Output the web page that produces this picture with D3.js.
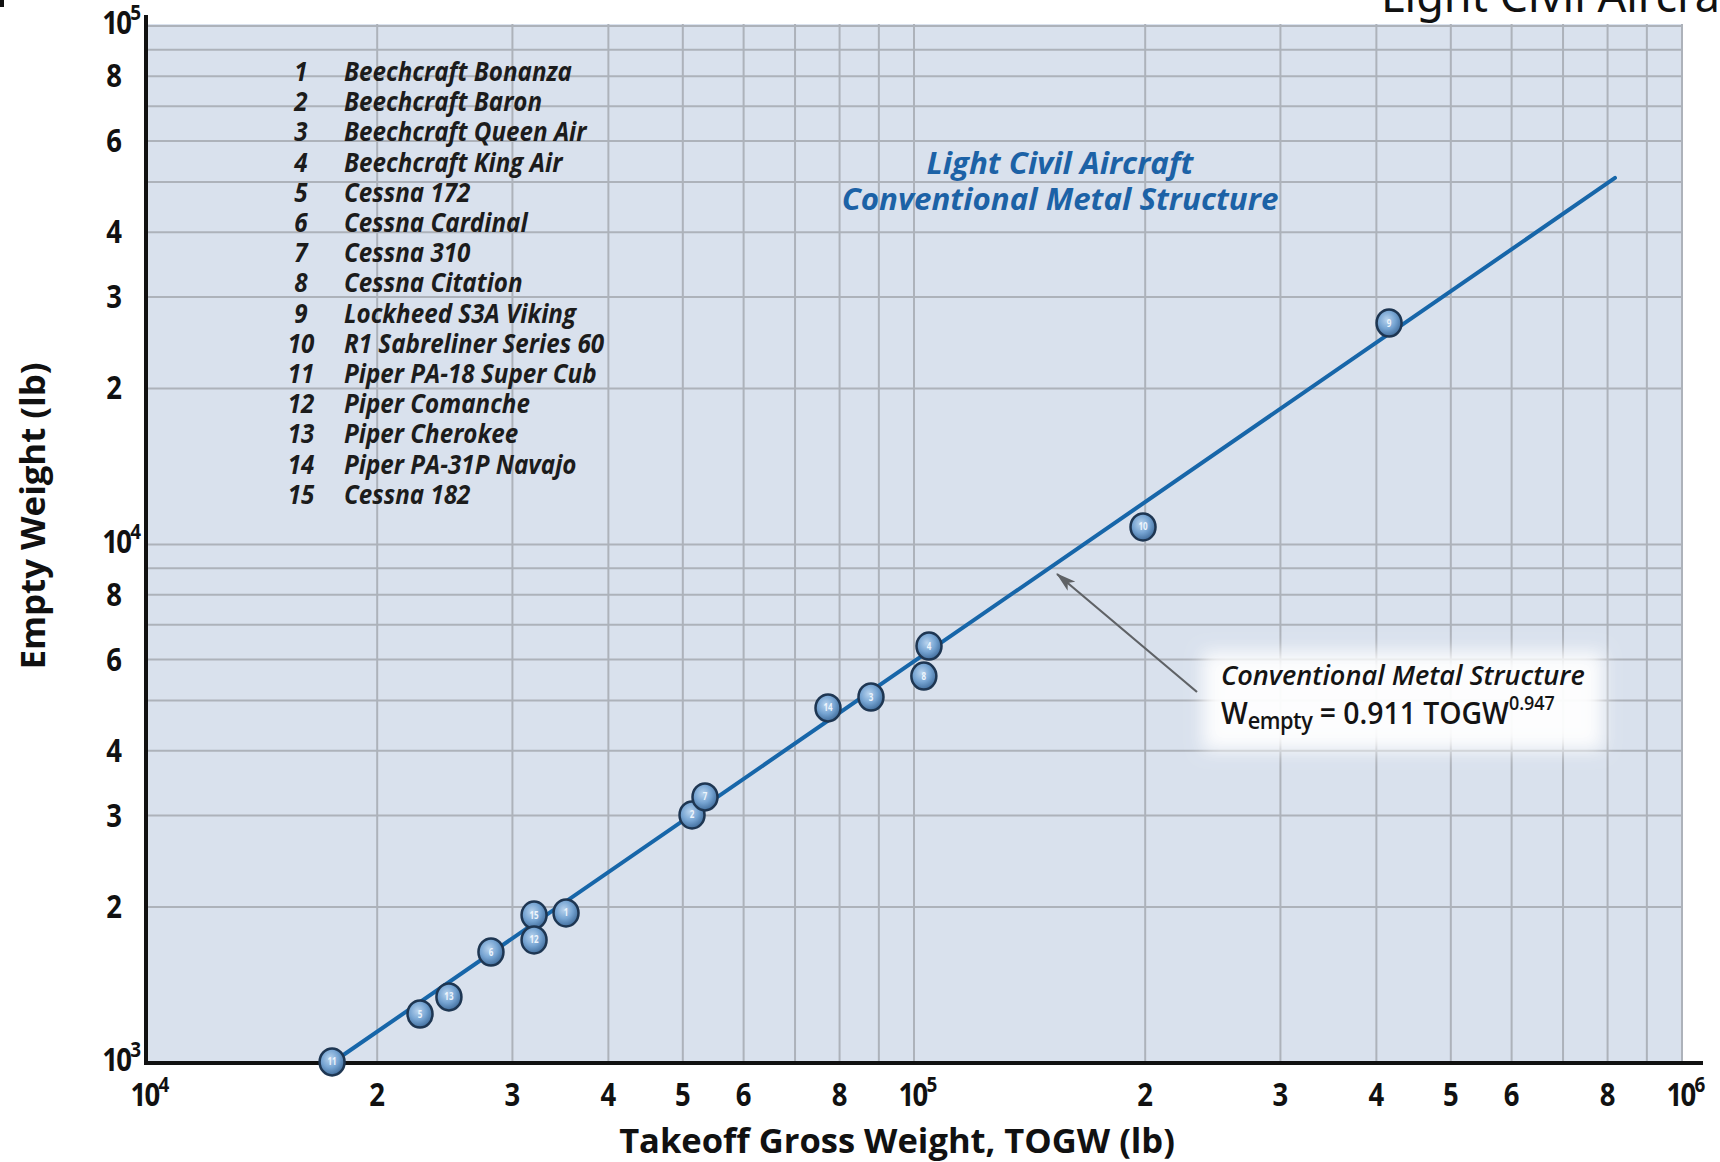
<!DOCTYPE html>
<html>
<head>
<meta charset="utf-8">
<script src="https://cdn.jsdelivr.net/npm/d3@7"></script>
<style>
  html, body { margin: 0; padding: 0; background: #ffffff; }
  svg { display: block; }
</style>
</head>
<body>
<svg id="chart" width="1720" height="1162"></svg>
<script>
// ---------------- data ----------------
const aircraftNames = [
  "Beechcraft Bonanza", "Beechcraft Baron", "Beechcraft Queen Air", "Beechcraft King Air",
  "Cessna 172", "Cessna Cardinal", "Cessna 310", "Cessna Citation",
  "Lockheed S3A Viking", "R1 Sabreliner Series 60", "Piper PA-18 Super Cub",
  "Piper Comanche", "Piper Cherokee", "Piper PA-31P Navajo", "Cessna 182"
];
const pointIds   = [11, 5, 13, 6, 15, 12, 1, 2, 7, 14, 3, 8, 4, 10, 9];
const pointTOGW  = [17470, 22740, 24800, 28130, 32010, 32010, 35230, 51400, 53440, 77270, 87900, 103000, 104600, 198700, 415500];
const pointEmpty = [1005, 1243, 1341, 1637, 1929, 1727, 1947, 3009, 3260, 4840, 5080, 5575, 6370, 10810, 26740];
const fitLineTOGW  = [17450, 818000];
const fitLineEmpty = [1000, 50920];
const xTickValues = [1e4, 2e4, 3e4, 4e4, 5e4, 6e4, 8e4, 1e5, 2e5, 3e5, 4e5, 5e5, 6e5, 8e5, 1e6];
const xTickLabels = ["10^4", "2", "3", "4", "5", "6", "8", "10^5", "2", "3", "4", "5", "6", "8", "10^6"];
const yTickValues = [1e3, 2e3, 3e3, 4e3, 6e3, 8e3, 1e4, 2e4, 3e4, 4e4, 6e4, 8e4, 1e5];
const yTickLabels = ["10^3", "2", "3", "4", "6", "8", "10^4", "2", "3", "4", "6", "8", "10^5"];
const xAxisTitle = "Takeoff Gross Weight, TOGW  (lb)";
const yAxisTitle = "Empty Weight (lb)";
const plotTitle = ["Light Civil Aircraft", "Conventional Metal Structure"];
const pageTitle = "Light Civil Aircraft";
const annotationTitle = "Conventional Metal Structure";

// ---------------- layout ----------------
const svg = d3.select("#chart");
const L = 146, R = 1682, T = 26, B = 1063;
const x = d3.scaleLog().domain([1e4, 1e6]).range([L, R]);
const y = d3.scaleLog().domain([1e3, 1e5]).range([B, T]);

const defs = svg.append("defs");
const grad = defs.append("radialGradient").attr("id", "mk").attr("cx", "42%").attr("cy", "38%").attr("r", "62%");
grad.append("stop").attr("offset", "0%").attr("stop-color", "#b8d3ee");
grad.append("stop").attr("offset", "55%").attr("stop-color", "#76a4d2");
grad.append("stop").attr("offset", "100%").attr("stop-color", "#436f9e");
const blur = defs.append("filter").attr("id", "glow").attr("x", "-20%").attr("y", "-40%").attr("width", "140%").attr("height", "180%");
blur.append("feGaussianBlur").attr("stdDeviation", 9);
defs.append("marker").attr("id", "arrow").attr("viewBox", "0 0 20 12")
  .attr("refX", 19).attr("refY", 6).attr("markerWidth", 20).attr("markerHeight", 12)
  .attr("markerUnits", "userSpaceOnUse").attr("orient", "auto")
  .append("path").attr("d", "M0,0 L20,6 L0,12 L5,6 Z").attr("fill", "#5f6266");

// top-left crop mark and cropped page title
svg.append("rect").attr("x", 0).attr("y", 0).attr("width", 4).attr("height", 7).attr("fill", "#111");
svg.append("text").attr("x", 1381).attr("y", 12)
  .attr("font-family", "'Noto Sans', 'Open Sans', sans-serif").attr("font-size", 45)
  .attr("fill", "#111").text(pageTitle);

// plot background
svg.append("rect").attr("x", L).attr("y", T - 2).attr("width", R - L + 1).attr("height", B - T + 2)
  .attr("fill", "#d9e1ed");

// grid
const gx = x.ticks().filter(v => v > 1e4);
const gy = y.ticks().filter(v => v > 1e3);
svg.append("g").selectAll("line").data(gx).join("line")
  .attr("x1", d => x(d)).attr("x2", d => x(d)).attr("y1", T - 2).attr("y2", B)
  .attr("stroke", "#adb2ba").attr("stroke-width", 2);
svg.append("g").selectAll("line").data(gy).join("line")
  .attr("x1", L).attr("x2", R).attr("y1", d => y(d)).attr("y2", d => y(d))
  .attr("stroke", "#adb2ba").attr("stroke-width", 2);

// axes lines
svg.append("line").attr("x1", L).attr("x2", L).attr("y1", 15).attr("y2", B + 2)
  .attr("stroke", "#111").attr("stroke-width", 4);
svg.append("line").attr("x1", L - 2).attr("x2", 1703).attr("y1", B).attr("y2", B)
  .attr("stroke", "#111").attr("stroke-width", 4);

// tick labels
const tickFont = "'Open Sans', 'Noto Sans', sans-serif";
function tickText(g, label, anchor) {
  const t = g.append("text").attr("font-family", tickFont).attr("font-weight", 700)
    .attr("font-size", 32).attr("fill", "#111").attr("text-anchor", anchor);
  if (label.includes("^")) {
    const [base, sup] = label.split("^");
    t.append("tspan").text(base).attr("letter-spacing", -2);
    t.append("tspan").text(sup).attr("font-size", 22).attr("dy", -14);
  } else t.text(label);
  return t;
}
xTickValues.forEach((v, i) => {
  const g = svg.append("g").attr("transform", `translate(${x(v) + (xTickLabels[i].includes("^") ? 4 : 0)},1106) scale(0.86,1)`);
  tickText(g, xTickLabels[i], "middle");
});
yTickValues.forEach((v, i) => {
  const lab = yTickLabels[i];
  const pow = lab.includes("^");
  const g = svg.append("g").attr("transform", `translate(${pow ? 141 : 114},${y(v) + 11 - (pow ? 3 : 0)}) scale(0.86,1)`);
  tickText(g, lab, pow ? "end" : "middle");
});

// helper: horizontally condensed text fitted to a target width
function fitted(parent, txt, cx, cy, target, opts, anchor = "middle", rot = 0) {
  const g = parent.append("g");
  const t = g.append("text").attr("text-anchor", anchor).text(txt);
  Object.entries(opts).forEach(([k, v]) => t.attr(k, v));
  const w = t.node().getComputedTextLength();
  const k = target / w;
  g.attr("transform", `translate(${cx},${cy}) rotate(${rot}) scale(${k},1)`);
  return { g, t, k };
}

// axis titles
const boldTitle = { "font-family": tickFont, "font-weight": 700, "font-size": 34, "fill": "#111" };
fitted(svg, xAxisTitle, 897, 1153, 556, boldTitle);
fitted(svg, yAxisTitle, 45, 516, 307, boldTitle, "middle", -90);

// legend list
const legendFont = { "font-family": "'Open Sans', sans-serif", "font-style": "italic", "font-weight": 700, "font-size": 26, "fill": "#1c1c1c" };
const probe = svg.append("text").text(aircraftNames[0]);
Object.entries(legendFont).forEach(([k, v]) => probe.attr(k, v));
const legendK = 228 / probe.node().getComputedTextLength();
probe.remove();
aircraftNames.forEach((name, i) => {
  const cy = 72 + i * 30.2 + 9;
  const gn = svg.append("g").attr("transform", `translate(301,${cy}) scale(${legendK},1)`);
  const tn = gn.append("text").attr("text-anchor", "middle").text(i + 1);
  Object.entries(legendFont).forEach(([k, v]) => tn.attr(k, v));
  const gt = svg.append("g").attr("transform", `translate(344,${cy}) scale(${legendK},1)`);
  const tt = gt.append("text").text(name);
  Object.entries(legendFont).forEach(([k, v]) => tt.attr(k, v));
});

// blue plot title
const blueFont = { "font-family": "'Open Sans', sans-serif", "font-style": "italic", "font-weight": 700, "font-size": 30, "fill": "#1c62a6" };
const bt = fitted(svg, plotTitle[1], 1060, 210, 437, blueFont);
const g1 = svg.append("g").attr("transform", `translate(1060,174) scale(${bt.k},1)`);
const t1 = g1.append("text").attr("text-anchor", "middle").text(plotTitle[0]);
Object.entries(blueFont).forEach(([k, v]) => t1.attr(k, v));

// annotation glow box
svg.append("rect").attr("x", 1203).attr("y", 652).attr("width", 400).attr("height", 98)
  .attr("fill", "#ffffff").attr("opacity", 0.95).attr("filter", "url(#glow)");

// fit line
const lineData = fitLineTOGW.map((v, i) => [v, fitLineEmpty[i]]);
svg.append("path").datum(lineData)
  .attr("d", d3.line().x(d => x(d[0])).y(d => y(d[1])))
  .attr("stroke", "#1766a9").attr("stroke-width", 4).attr("fill", "none").attr("stroke-linecap", "round");

// annotation arrow
svg.append("line").attr("x1", 1197).attr("y1", 692).attr("x2", 1057).attr("y2", 574)
  .attr("stroke", "#5f6266").attr("stroke-width", 2.2).attr("marker-end", "url(#arrow)");

// annotation text
const annFont = { "font-family": "'Open Sans', sans-serif", "font-style": "italic", "font-weight": 600, "font-size": 27, "fill": "#141414" };
fitted(svg, annotationTitle, 1221, 685, 364, annFont, "start");
const ge = svg.append("g");
const eq = ge.append("text").attr("font-family", "'Open Sans', sans-serif").attr("font-weight", 600)
  .attr("font-size", 30).attr("fill", "#141414");
eq.append("tspan").text("W");
eq.append("tspan").text("empty").attr("font-size", 23).attr("dy", 5).attr("letter-spacing", -0.5);
eq.append("tspan").text(" = 0.911 TOGW").attr("dy", -5);
eq.append("tspan").text("0.947").attr("font-size", 19).attr("dy", -14);
const eqK = 334 / eq.node().getComputedTextLength();
ge.attr("transform", `translate(1221,724) scale(${eqK},1)`);

// data points
const pts = pointIds.map((id, i) => ({ id, tx: pointTOGW[i], ey: pointEmpty[i] }));
const pg = svg.append("g").selectAll("g").data(pts).join("g")
  .attr("transform", d => `translate(${x(d.tx)},${y(d.ey)})`);
pg.append("ellipse").attr("rx", 12.5).attr("ry", 13.5)
  .attr("fill", "url(#mk)").attr("stroke", "#1e3652").attr("stroke-width", 2.5);
pg.append("text").attr("text-anchor", "middle").attr("dy", 3.5)
  .attr("font-family", "'Open Sans', sans-serif").attr("font-weight", 700).attr("font-size", 10)
  .attr("fill", "#eef5fc").attr("transform", "scale(0.8,1)")
  .text(d => d.id);
</script>
</body>
</html>
